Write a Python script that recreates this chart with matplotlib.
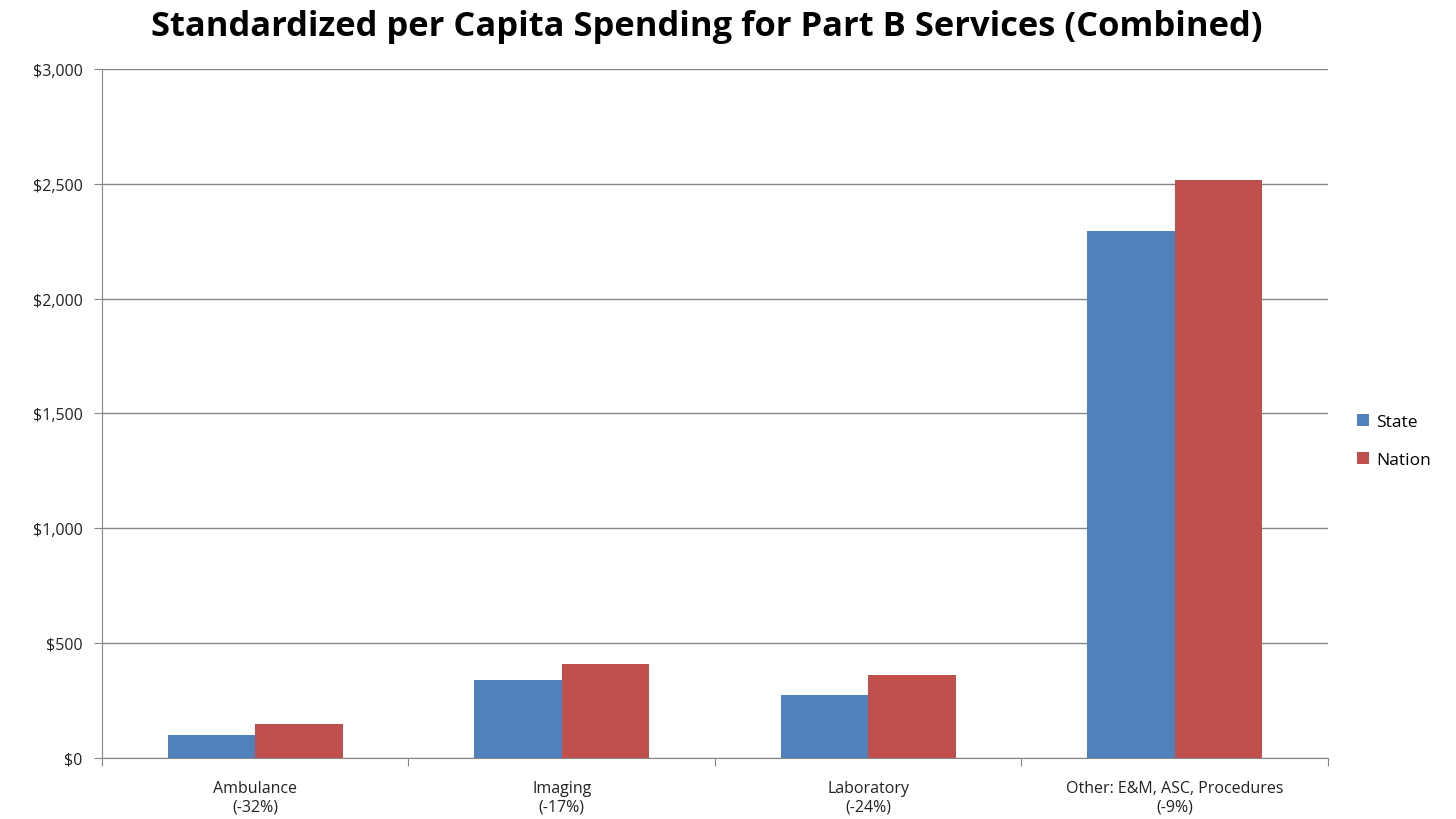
import numpy as np
import matplotlib
matplotlib.use("Agg")
import matplotlib.pyplot as plt
from matplotlib.ticker import FuncFormatter

# Per capita spending by service category
categories = ["Ambulance\n(-32%)", "Imaging\n(-17%)", "Laboratory\n(-24%)",
              "Other: E&M, ASC, Procedures\n(-9%)"]
state = [100, 338, 272, 2295]
nation = [147, 407, 360, 2515]

plt.rcParams['font.family'] = ['Open Sans', 'DejaVu Sans']

fig = plt.figure(figsize=(14.56, 8.2), dpi=100)
ax = fig.add_axes([0.070, 0.075, 0.842, 0.8395])

x = np.arange(len(categories))
w = 0.2857
ax.bar(x - w / 2, state, w, color="#4F81BD", label="State", zorder=3)
ax.bar(x + w / 2, nation, w, color="#C0504D", label="Nation", zorder=3)

ax.set_xlim(-0.5, len(categories) - 0.5)
ax.set_ylim(0, 3000)
ax.set_yticks(np.arange(0, 3001, 500))
ax.yaxis.set_major_formatter(FuncFormatter(lambda v, p: f"${v:,.0f}"))
ax.yaxis.grid(True, color="#868686", linewidth=1, zorder=0)

# category boundaries carry the tick marks
ax.set_xticks(np.arange(-0.5, len(categories), 1))
ax.set_xticklabels([])
ax.set_xticks(x, minor=True)
ax.set_xticklabels(categories, minor=True, fontsize=11.5, color="#222222")
ax.tick_params(axis="x", which="minor", length=0, pad=16)
ax.tick_params(axis="x", which="major", length=6, color="#868686", direction="out")
ax.tick_params(axis="y", length=6, color="#868686", labelsize=11.5, labelcolor="#222222", pad=8)

for side in ["top", "right"]:
    ax.spines[side].set_visible(False)
for side in ["left", "bottom"]:
    ax.spines[side].set_color("#868686")

ax.legend(loc="center left", bbox_to_anchor=(1.011, 0.46), frameon=False,
          fontsize=12.5, handlelength=0.7, handleheight=0.7, labelspacing=1.25,
          handletextpad=0.4)

fig.text(0.4856, 0.967, "Standardized per Capita Spending for Part B Services (Combined)",
         ha="center", va="center", fontsize=24.8, fontweight="bold")

fig.savefig("out.png", dpi=100)
